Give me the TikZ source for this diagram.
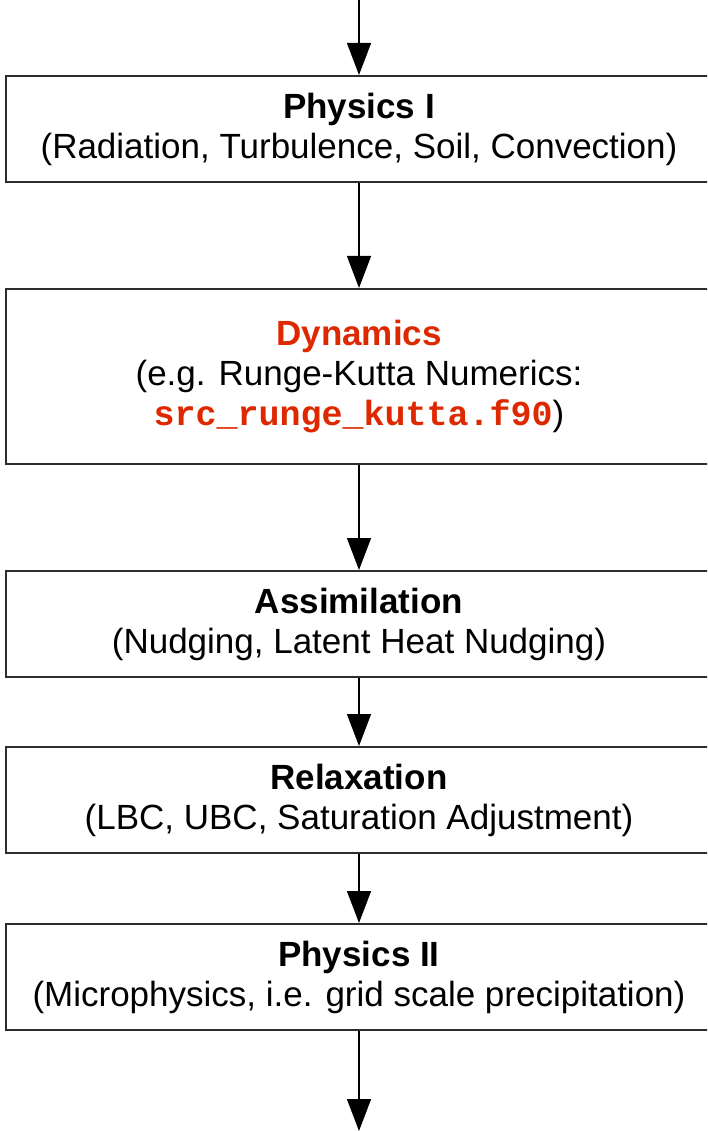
\documentclass[tikz,border=0pt]{standalone}
\usepackage{fontspec}
\setmainfont{Liberation Sans}
\setmonofont{Liberation Mono}
\usetikzlibrary{arrows.meta}
\definecolor{dynred}{RGB}{221,40,0}
\definecolor{boxline}{RGB}{45,45,45}
\tikzset{
  stagebox/.style={draw=boxline, line width=2pt, minimum width=706pt,
    minimum height=#1, inner sep=0pt, align=center,
    font=\fontsize{35}{40}\selectfont},
  flow/.style={-{Triangle[length=32pt,width=24pt]}, line width=1.3pt, draw=black}
}
\begin{document}
\begin{tikzpicture}[x=1pt,y=-1pt]
\useasboundingbox (0,0) rectangle (707,1131);
\clip (0,0) rectangle (707,1131);
\node[stagebox=106pt] (b1) at (359,129)
  {\textbf{Physics I}\\(Radiation, Turbulence, Soil, Convection)};
\node[stagebox=175pt] (b2) at (359,376.5)
  {\textcolor{dynred}{\textbf{Dynamics}}\\(e.g. Runge-Kutta Numerics:\\\textcolor{dynred}{\ttfamily\bfseries src\_runge\_kutta.f90})};
\node[stagebox=106pt] (b3) at (359,624)
  {\textbf{Assimilation}\\(Nudging, Latent Heat Nudging)};
\node[stagebox=106pt] (b4) at (359,800)
  {\textbf{Relaxation}\\(LBC, UBC, Saturation Adjustment)};
\node[stagebox=106pt] (b5) at (359,977)
  {\textbf{Physics II}\\(Microphysics, i.e. grid scale precipitation)};
\coordinate (in) at (359,0);
\coordinate (out) at (359,1131);
\draw[flow] (in) -- (b1.north);
\draw[flow] (b1.south) -- (b2.north);
\draw[flow] (b2.south) -- (b3.north);
\draw[flow] (b3.south) -- (b4.north);
\draw[flow] (b4.south) -- (b5.north);
\draw[flow] (b5.south) -- (out);
\end{tikzpicture}
\end{document}
